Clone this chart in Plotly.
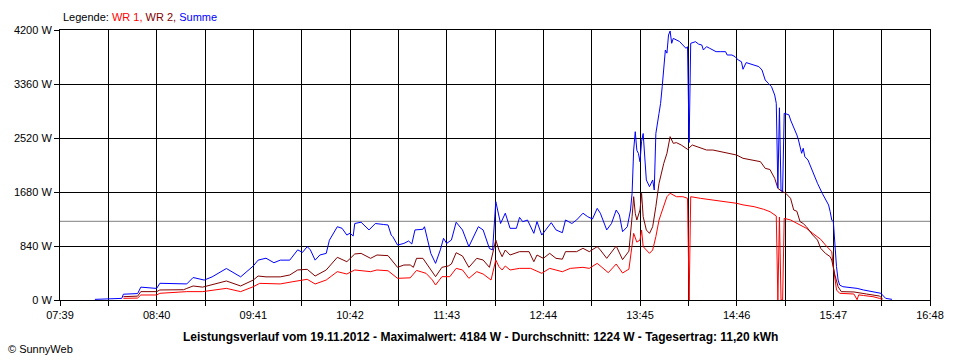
import plotly.graph_objects as go

# ---------------- data ----------------
tick_labels = ["07:39", "08:40", "09:41", "10:42", "11:43", "12:44", "13:45", "14:46", "15:47", "16:48"]
y_ticks = [0, 840, 1680, 2520, 3360, 4200]

date_str = "19.11.2012"
max_w = 4184
avg_w = 1224
yield_kwh = "11,20"

wr1_time = ["08:19", "08:28", "08:30", "08:40", "08:42", "08:59", "09:09", "09:24", "09:33", "09:41",
            "09:45", "09:58", "10:06", "10:15", "10:20", "10:27", "10:34", "10:40", "10:45", "10:55",
            "10:59", "11:06", "11:12", "11:20", "11:24", "11:30", "11:34", "11:36", "11:40", "11:45",
            "11:49", "11:53", "11:57", "12:02", "12:06", "12:11", "12:14", "12:16", "12:18", "12:20",
            "12:23", "12:29", "12:36", "12:43", "12:48", "12:56", "13:01", "13:09", "13:13", "13:18",
            "13:21", "13:25", "13:30", "13:34", "13:38", "13:40", "13:41", "13:43", "13:45", "13:46",
            "13:47", "13:49", "13:51", "13:53", "13:55", "13:57", "14:00", "14:02", "14:04", "14:08",
            "14:12", "14:15", "14:16", "14:17", "14:23", "14:27", "14:40", "14:46", "14:50", "14:57",
            "15:03", "15:07", "15:11", "15:12", "15:13", "15:14", "15:15", "15:16", "15:20", "15:22",
            "15:26", "15:30", "15:34", "15:39", "15:42", "15:45", "15:46", "15:47", "15:48", "15:49",
            "15:51", "16:00", "16:02", "16:03", "16:06", "16:12", "16:16", "16:18"]
wr1_w = [26, 30, 78, 78, 104, 130, 130, 181, 130, 207,
         259, 250, 285, 322, 249, 311, 441, 404, 467, 441,
         467, 455, 337, 345, 460, 415, 311, 233, 363, 363,
         492, 467, 337, 441, 404, 311, 622, 518, 467, 529,
         467, 492, 492, 415, 492, 440, 492, 508, 492, 570,
         508, 425, 560, 420, 480, 830, 1037, 900, 933, 1089,
         830, 778, 726, 778, 985, 1244, 1452, 1607, 1660, 1607,
         1607, 1582, 0, 1607, 1582, 1567, 1530, 1504, 1480, 1452,
         1411, 1374, 1307, 0, 1290, 0, 0, 1270, 1245, 1219,
         1167, 1115, 1037, 944, 856, 778, 752, 518, 311, 156,
         104, 93, 5, 80, 70, 52, 26, 10]

wr2_time = ["08:19", "08:28", "08:30", "08:40", "08:42", "08:57", "08:59", "09:03", "09:09", "09:12",
            "09:24", "09:33", "09:41", "09:44", "09:49", "09:58", "10:04", "10:09", "10:15", "10:20",
            "10:27", "10:34", "10:40", "10:45", "10:49", "10:55", "10:59", "11:06", "11:09", "11:12",
            "11:16", "11:20", "11:22", "11:24", "11:28", "11:30", "11:34", "11:36", "11:40", "11:42",
            "11:44", "11:46", "11:49", "11:53", "11:57", "12:02", "12:06", "12:10", "12:14", "12:16",
            "12:18", "12:20", "12:23", "12:29", "12:35", "12:38", "12:40", "12:44", "12:48", "12:52",
            "12:56", "12:58", "13:05", "13:09", "13:13", "13:18", "13:20", "13:24", "13:30", "13:34",
            "13:38", "13:40", "13:41", "13:42", "13:43", "13:45", "13:46", "13:47", "13:49", "13:51",
            "13:53", "13:55", "13:57", "14:00", "14:02", "14:04", "14:06", "14:08", "14:11", "14:15",
            "14:18", "14:21", "14:24", "14:27", "14:31", "14:40", "14:46", "14:50", "14:57", "15:01",
            "15:04", "15:07", "15:10", "15:12", "15:14", "15:17", "15:20", "15:22", "15:24", "15:26",
            "15:28", "15:30", "15:34", "15:37", "15:39", "15:42", "15:45", "15:46", "15:48", "15:50",
            "15:52", "16:00", "16:08", "16:16", "16:18"]
wr2_w = [52, 60, 130, 130, 156, 160, 180, 218, 200, 218,
         296, 218, 311, 373, 360, 360, 389, 467, 477, 373,
         467, 664, 596, 716, 725, 648, 700, 690, 596, 508,
         544, 545, 508, 648, 648, 580, 441, 363, 508, 518,
         529, 560, 736, 684, 508, 648, 622, 508, 933, 778,
         674, 778, 700, 752, 752, 596, 700, 648, 726, 648,
         635, 752, 752, 804, 752, 830, 778, 648, 840, 628,
         760, 1296, 1607, 1349, 1244, 1400, 1660, 1296, 1089, 1037,
         1140, 1452, 1815, 2126, 2282, 2541, 2437, 2448, 2411, 2344,
         2411, 2385, 2359, 2333, 2333, 2292, 2255, 2204, 2178, 2152,
         2048, 2030, 1893, 1737, 1700, 1660, 1582, 1400, 1380, 1219,
         1190, 1141, 1011, 933, 804, 726, 674, 622, 390, 207,
         130, 125, 93, 62, 26]

sum_time = ["08:01", "08:18", "08:19", "08:28", "08:30", "08:40", "08:42", "08:59", "09:03", "09:10",
            "09:15", "09:24", "09:33", "09:41", "09:44", "09:49", "09:54", "09:58", "10:04", "10:09",
            "10:12", "10:15", "10:17", "10:20", "10:23", "10:27", "10:29", "10:34", "10:37", "10:40",
            "10:42", "10:44", "10:45", "10:49", "10:54", "10:58", "11:03", "11:06", "11:08", "11:09",
            "11:12", "11:16", "11:19", "11:21", "11:23", "11:28", "11:29", "11:33", "11:36", "11:39",
            "11:41", "11:43", "11:46", "11:49", "11:53", "11:57", "12:03", "12:06", "12:10", "12:12",
            "12:14", "12:15", "12:17", "12:20", "12:23", "12:27", "12:29", "12:31", "12:34", "12:38",
            "12:40", "12:43", "12:46", "12:49", "12:52", "12:56", "12:58", "13:02", "13:05", "13:09",
            "13:12", "13:15", "13:18", "13:20", "13:24", "13:27", "13:30", "13:32", "13:34", "13:37",
            "13:39", "13:40", "13:41", "13:42", "13:43", "13:44", "13:45", "13:46", "13:47", "13:48",
            "13:49", "13:51", "13:53", "13:54", "13:55", "13:57", "13:58", "13:59", "14:00", "14:01",
            "14:02", "14:03", "14:04", "14:05", "14:06", "14:08", "14:10", "14:12", "14:14", "14:15",
            "14:16", "14:17", "14:20", "14:22", "14:24", "14:25", "14:27", "14:29", "14:31", "14:33",
            "14:36", "14:39", "14:40", "14:43", "14:45", "14:47", "14:49", "14:50", "14:52", "14:57",
            "15:00", "15:02", "15:04", "15:06", "15:08", "15:10", "15:11", "15:12", "15:13", "15:14",
            "15:15", "15:16", "15:19", "15:20", "15:22", "15:24", "15:25", "15:26", "15:27", "15:28",
            "15:29", "15:31", "15:33", "15:35", "15:37", "15:40", "15:42", "15:44", "15:45", "15:46",
            "15:47", "15:48", "15:49", "15:50", "15:51", "15:53", "15:58", "16:02", "16:06", "16:12",
            "16:17", "16:20", "16:24"]
sum_w = [10, 25, 90, 100, 200, 180, 260, 250, 350, 310,
         360, 490, 360, 530, 620, 650, 580, 620, 620, 780,
         740, 830, 780, 620, 700, 725, 930, 1140, 1115, 1010,
         1040, 995, 1190, 1210, 1090, 1190, 1175, 1167, 1010, 985,
         855, 880, 918, 871, 1090, 1100, 1140, 725, 570, 780,
         960, 880, 933, 1210, 1089, 830, 1140, 1090, 800, 780,
         1530, 1400, 1190, 1350, 1115, 1115, 1285, 1218, 1244, 1037,
         1220, 1010, 1115, 1203, 1090, 1047, 1245, 1190, 1245, 1350,
         1296, 1260, 1425, 1349, 1090, 1190, 1400, 1322, 1063, 1140,
         1400, 1660, 2333, 2618, 2330, 2280, 2150, 2470, 2590, 2126,
         1867, 1763, 1867, 1711, 2590, 2904, 3060, 3318, 3630, 3889,
         3840, 4122, 4184, 3993, 4070, 4044, 4020, 3967, 3915, 3940,
         2450, 3993, 4018, 3980, 3967, 3889, 3941, 3915, 3889, 3863,
         3863, 3863, 3811, 3811, 3785, 3733, 3707, 3589, 3693, 3656,
         3630, 3578, 3422, 3370, 3318, 3189, 3060, 1740, 2990, 1700,
         1690, 2904, 2880, 2800, 2696, 2567, 2489, 2385, 2282, 2360,
         2230, 2178, 2049, 1944, 1815, 1660, 1556, 1478, 1374, 1244,
         1218, 829, 518, 311, 233, 207, 197, 181, 156, 130,
         104, 26, 10]


def to_min(s):
    h, m = s.split(":")
    return int(h) * 60 + int(m)


FONT = "Liberation Sans, Arial, sans-serif"
RED = "#FF0000"
DARKRED = "#800000"
BLUE = "#0000FF"

fig = go.Figure()
fig.add_trace(go.Scatter(x=[to_min(t) for t in wr1_time], y=wr1_w, mode="lines",
                         line=dict(color=RED, width=1), name="WR 1"))
fig.add_trace(go.Scatter(x=[to_min(t) for t in wr2_time], y=wr2_w, mode="lines",
                         line=dict(color=DARKRED, width=1), name="WR 2"))
fig.add_trace(go.Scatter(x=[to_min(t) for t in sum_time], y=sum_w, mode="lines",
                         line=dict(color=BLUE, width=1), name="Summe"))

tick_vals = [to_min(t) for t in tick_labels]
half = (tick_vals[1] - tick_vals[0]) / 2.0

fig.add_shape(type="line", xref="paper", x0=0, x1=1, yref="y", y0=avg_w, y1=avg_w,
              line=dict(color="#808080", width=1), layer="between")

fig.update_xaxes(range=[tick_vals[0], tick_vals[-1]], tickmode="array", tickvals=tick_vals,
                 ticktext=tick_labels, showgrid=True, gridcolor="black", gridwidth=1,
                 ticks="outside", ticklen=5, tickcolor="black", tickwidth=1,
                 minor=dict(tick0=tick_vals[0], dtick=half, showgrid=True, gridcolor="black",
                            gridwidth=1, ticks="outside", ticklen=5, tickcolor="black"),
                 showline=True, linecolor="black", linewidth=1, mirror=True,
                 zeroline=False, tickfont=dict(family=FONT, size=11, color="black"))
fig.update_yaxes(range=[0, 4200], tickmode="array", tickvals=y_ticks,
                 ticktext=[f"{v} W" for v in y_ticks], showgrid=True, gridcolor="black",
                 gridwidth=1, ticks="outside", ticklen=5, tickcolor="black", tickwidth=1,
                 showline=True, linecolor="black", linewidth=1, mirror=True, zeroline=False,
                 tickfont=dict(family=FONT, size=11, color="black"))

legend_text = (f"Legende: <span style='color:{RED}'>WR 1,</span> "
               f"<span style='color:{DARKRED}'>WR 2,</span> "
               f"<span style='color:{BLUE}'>Summe</span>")
title_text = (f"<b>Leistungsverlauf vom {date_str} - Maximalwert: {max_w} W - "
              f"Durchschnitt: {avg_w} W - Tagesertrag: {yield_kwh} kWh</b>")

fig.add_annotation(xref="paper", yref="paper", x=1 / 870, y=1 + 13.3 / 270, text=legend_text,
                   showarrow=False, xanchor="left", yanchor="middle",
                   font=dict(family=FONT, size=11, color="black"))
fig.add_annotation(xref="paper", yref="paper", x=420 / 870, y=-36.7 / 270, text=title_text,
                   showarrow=False, xanchor="center", yanchor="middle",
                   font=dict(family=FONT, size=12, color="black"))
fig.add_annotation(xref="paper", yref="paper", x=-54 / 870, y=-49.3 / 270, text="© SunnyWeb",
                   showarrow=False, xanchor="left", yanchor="middle",
                   font=dict(family=FONT, size=11, color="black"))

fig.update_layout(width=960, height=360,
                  margin=dict(l=60, r=30, t=30, b=60, autoexpand=False),
                  paper_bgcolor="white", plot_bgcolor="white", showlegend=False,
                  font=dict(family=FONT, size=11, color="black"))

fig.write_html("out.html", config={"displayModeBar": False},
               post_script="document.body.style.margin='0';")
